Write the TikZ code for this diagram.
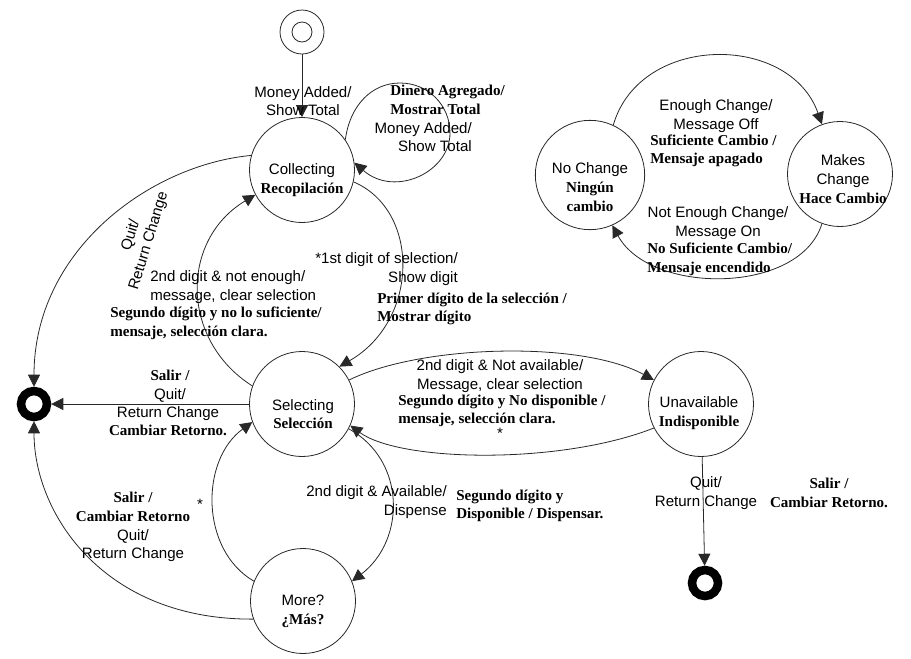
\documentclass[tikz,border=0pt]{standalone}
\usepackage{fontspec}
\setmainfont{Liberation Sans}
\newfontfamily\esfont{Liberation Serif}
\usepackage{tikz}
\usetikzlibrary{arrows.meta}
\definecolor{stline}{RGB}{40,40,40}
\newcommand{\esb}{\esfont\bfseries}
\tikzset{
  state/.style={circle,draw=stline,line width=0.6pt,
    minimum size=78.75pt,inner sep=0pt},
  startout/.style={circle,draw=stline,line width=0.6pt,
    minimum size=33pt,inner sep=0pt},
  startin/.style={circle,draw=stline,line width=0.6pt,
    minimum size=15pt,inner sep=0pt},
  finalst/.style={circle,draw=black,line width=6.4pt,
    minimum size=19.5pt,inner sep=0pt},
  trans/.style={-{Triangle[length=9pt,width=9pt]},line width=0.6pt,color=stline},
  entxt/.style={font=\fontsize{11.3}{14}\selectfont,inner sep=0pt,align=center},
  estxt/.style={font=\esb\fontsize{11.3}{14}\selectfont,inner sep=0pt,align=left}
}

\begin{document}
\begin{tikzpicture}[x=0.75pt,y=-0.75pt]
  \useasboundingbox (0,0) rectangle (911,658);

  % States
  \node[startout] (init)  at (302,32)  {};
  \node[startin]  (init0) at (302,32)  {};
  \node[state] (col)  at (302,170) {};
  \node[state] (sel)  at (302,404) {};
  \node[state] (more) at (303,601) {};
  \node[state] (ua)   at (701,404) {};
  \node[state,minimum size=82pt] (nc) at (590,175) {};
  \node[state] (mc)   at (840,174) {};
  \node[finalst] (end1) at (34,404)  {};
  \node[finalst] (end2) at (705,583) {};

  % State names
  \node[entxt] (colT)  at (302,180) {Collecting\\{\esb Recopilación}};
  \node[entxt] (selT)  at (303,414) {Selecting\\{\esb Selección}};
  \node[entxt] (moreT) at (303,611) {More?\\{\esb ¿Más?}};
  \node[entxt] (uaT)   at (699,413) {Unavailable\\{\esb Indisponible}};
  \node[entxt] (ncT)   at (590,187) {No Change\\{\esb Ningún}\\{\esb cambio}};
  \node[entxt] (mcT)   at (843,179) {Makes\\Change\\{\esb Hace Cambio}};

  % Transitions
  \foreach \a/\b in {init/col,sel/end1,ua/end2}
    \draw[trans] (\a) -- (\b);
  \draw[trans] (col.35) .. controls (350,105) and (372,83) .. (400,83)
    .. controls (428,83) and (450,105) .. (450,133)
    .. controls (450,172) and (395,198) .. (col.8);
  \draw[trans] (col.164) .. controls (150,165) and (34,250) .. (end1);
  \draw[trans] (col.-13) .. controls (420,210) and (420,320) .. (sel.45);
  \draw[trans] (sel.160) .. controls (180,340) and (180,240) .. (col.208);
  \draw[trans] (sel.27) .. controls (420,345) and (580,340) .. (ua.153);
  \draw[trans] (ua.207) .. controls (560,465) and (400,462) .. (sel.-24);
  \draw[trans] (sel.-28) .. controls (406,460) and (406,540) .. (more.22);
  \draw[trans] (more.158) .. controls (200,550) and (200,460) .. (sel.200);
  \draw[trans] (more.200) .. controls (103,620) and (34,513) .. (end1);
  \draw[trans] (nc.65) .. controls (640,33) and (790,33) .. (mc.110);
  \draw[trans] (mc.250) .. controls (800,295) and (650,295) .. (nc.-66);

  % Labels on transitions
  \node[entxt] (lInit) at (303,101) {Money Added/\\Show Total};
  \node[estxt,anchor=west] (lLoopEs) at (390,100) {Dinero Agregado/\\Mostrar Total};
  \node[entxt,anchor=east,align=right] (lLoop) at (472,137) {Money Added/\\Show Total};
  \node[entxt,rotate=73] (lQuit1) at (140,238) {Quit/\\Return Change};
  \node[entxt,anchor=east,align=right] (lFirst) at (458,269)
    {*1st digit of selection/\\Show digit};
  \node[estxt,anchor=west] (lFirstEs) at (377,309)
    {Primer dígito de la selección /\\Mostrar dígito};
  \node[entxt,anchor=west,align=left] (lNotEn) at (150,287)
    {2nd digit \& not enough/\\message, clear selection};
  \node[estxt,anchor=west] (lNotEnEs) at (110,323)
    {Segundo dígito y no lo suficiente/\\mensaje, selección clara.};
  \node[entxt] (lQuit2a) at (170,386) {{\esb Salir /}\\Quit/};
  \node[entxt] (lQuit2b) at (168,421) {Return Change\\{\esb Cambiar Retorno.}};
  \node[entxt] (lNotAv) at (500,376)
    {2nd digit \& Not available/\\Message, clear selection};
  \node[estxt,anchor=west] (lNotAvEs) at (398,411)
    {Segundo dígito y No disponible /\\mensaje, selección clara.};
  \node[entxt] (lStar1) at (500,433) {*};
  \node[entxt] (lQuit3) at (706,493) {Quit/\\Return Change};
  \node[estxt,align=center] (lQuit3Es) at (829,493) {Salir /\\Cambiar Retorno.};
  \node[entxt,anchor=east,align=right] (lAv) at (447,502)
    {2nd digit \& Available/\\Dispense};
  \node[estxt,anchor=west] (lAvEs) at (456,506)
    {Segundo dígito y\\Disponible / Dispensar.};
  \node[entxt] (lStar2) at (200,504) {*};
  \node[entxt] (lQuit4) at (133,527)
    {{\esb Salir /}\\{\esb Cambiar Retorno}\\Quit/\\Return Change};
  \node[entxt] (lEn) at (716,116) {Enough Change/\\Message Off};
  \node[estxt,anchor=west] (lEnEs) at (650,151) {Suficiente Cambio /\\Mensaje apagado};
  \node[entxt] (lNotEnC) at (718,223) {Not Enough Change/\\Message On};
  \node[estxt,anchor=west] (lNotEnCEs) at (647,259)
    {No Suficiente Cambio/\\Mensaje encendido};
\end{tikzpicture}
\end{document}
